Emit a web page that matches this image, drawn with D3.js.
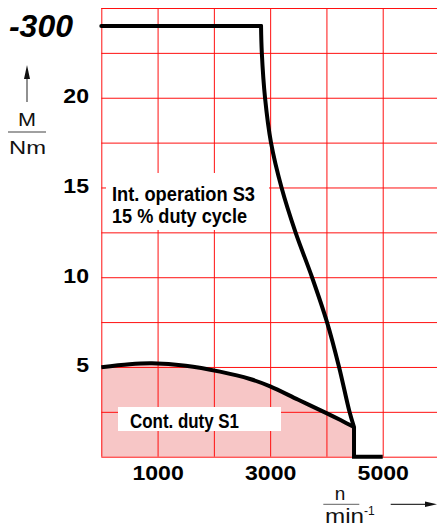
<!DOCTYPE html>
<html><head><meta charset="utf-8">
<script src="https://cdn.jsdelivr.net/npm/d3@7/dist/d3.min.js"></script>
<style>body{margin:0;background:#fff;} svg{display:block;}</style>
</head><body>
<svg id="c" width="437" height="531"></svg>
<script>
// ---- data ----
const title = "-300";
const nGrid = [0, 1000, 2000, 3000, 4000, 5000, 6000];
const mGrid = [0, 2.5, 5, 7.5, 10, 12.5, 15, 17.5, 20, 22.5, 25];
const nTickLabels = [1000, 3000, 5000];
const mTickLabels = [5, 10, 15, 20];
// S3 intermittent operation (15 % duty cycle)
const s3Flat_n = [0, 2838];
const s3Flat_m = [24, 24];
const s3Curve_n = [2838, 2852, 2909, 3015, 3202, 3451, 3744, 4010, 4224, 4410, 4490];
const s3Curve_m = [24, 22.5, 20, 17.5, 15, 12.5, 10, 7.5, 5, 2.5, 1.65];
const s3Drop_n = [4490, 4490, 5000];
const s3Drop_m = [1.65, 0, 0];
// S1 continuous duty
const s1_n = [0, 500, 900, 1500, 2109, 2642, 3000, 3500, 4000, 4250, 4490];
const s1_m = [4.98, 5.15, 5.2, 5.07, 4.74, 4.33, 3.92, 3.17, 2.43, 2.04, 1.65];
const labelS3 = ["Int. operation S3", "15 % duty cycle"];
const labelS1 = "Cont. duty S1";

// ---- chart ----
const svg = d3.select("#c");
const x = d3.scaleLinear().domain([0, 6000]).range([101.3, 439]);
const y = d3.scaleLinear().domain([0, 25]).range([456.7, 8]);
const zip = (a, b) => a.map((n, i) => ({n, m: b[i]}));
const FONT = "'Liberation Sans', Arial, Helvetica, sans-serif";

// S1 fill
const s1 = zip(s1_n, s1_m);
svg.append("path").datum(s1)
  .attr("d", d3.area().x(d => x(d.n)).y0(y(0)).y1(d => y(d.m)).curve(d3.curveCatmullRom))
  .attr("fill", "#f7c6c6");

// grid
const gx = svg.append("g").attr("transform", `translate(0,${y(0)})`)
  .call(d3.axisBottom(x).tickValues(nGrid).tickSize(-(y(0) - y(25))).tickFormat(""));
gx.select(".domain").remove();
gx.selectAll("line").attr("stroke", "#ff1010").attr("stroke-width", 1);
const gy = svg.append("g").attr("transform", `translate(${x(0)},0)`)
  .call(d3.axisLeft(y).tickValues(mGrid).tickSize(-(x(6000) - x(0))).tickFormat(""));
gy.select(".domain").remove();
gy.selectAll("line").attr("stroke", "#ff1010").attr("stroke-width", 1);

// label backgrounds
svg.append("rect").attr("x", 106).attr("y", 173).attr("width", 163).attr("height", 57).attr("fill", "#fff");
svg.append("rect").attr("x", 118).attr("y", 407).attr("width", 163).attr("height", 24).attr("fill", "#fff");

// curves
const line = d3.line().x(d => x(d.n)).y(d => y(d.m));
svg.append("path").datum(s1).attr("d", line.curve(d3.curveCatmullRom))
  .attr("fill", "none").attr("stroke", "#000").attr("stroke-width", 4);
svg.append("path").datum(zip(s3Flat_n, s3Flat_m)).attr("d", line.curve(d3.curveLinear))
  .attr("fill", "none").attr("stroke", "#000").attr("stroke-width", 4).attr("stroke-linecap", "round");
svg.append("path").datum(zip(s3Curve_n, s3Curve_m)).attr("d", line.curve(d3.curveCatmullRom.alpha(0.5)))
  .attr("fill", "none").attr("stroke", "#000").attr("stroke-width", 4).attr("stroke-linecap", "round");
svg.append("path").datum(zip(s3Drop_n, s3Drop_m)).attr("d", line.curve(d3.curveLinear))
  .attr("fill", "none").attr("stroke", "#000").attr("stroke-width", 4).attr("stroke-linejoin", "miter");

function stretch(sel, k) {
  sel.each(function () {
    const w = this.getComputedTextLength();
    d3.select(this).attr("textLength", w * k).attr("lengthAdjust", "spacingAndGlyphs");
  });
}
function fitTo(sel, w) { sel.attr("textLength", w).attr("lengthAdjust", "spacingAndGlyphs"); }

// tick labels
const ay = svg.append("g").attr("transform", `translate(${x(0)},0)`)
  .call(d3.axisLeft(y).tickValues(mTickLabels).tickSize(0).tickPadding(x(0) - 89).tickFormat(d3.format("d")));
ay.select(".domain").remove();
ay.selectAll("text").attr("dy", null).attr("y", 5)
  .style("font-family", FONT).style("font-size", "21px").style("font-weight", "bold").attr("fill", "#000");
stretch(ay.selectAll("text"), 1.1);

const ax = svg.append("g").attr("transform", `translate(0,${y(0)})`)
  .call(d3.axisBottom(x).tickValues(nTickLabels).tickSize(0).tickFormat(d3.format("d")));
ax.select(".domain").remove();
ax.selectAll("text").attr("dy", null).attr("y", 23.3)
  .style("font-family", FONT).style("font-size", "21px").style("font-weight", "bold").attr("fill", "#000");
stretch(ax.selectAll("text"), 1.1);

// in-plot labels
const t3 = svg.append("g").style("font-family", FONT).style("font-weight", "bold").style("font-size", "21px");
fitTo(t3.append("text").attr("x", 112).attr("y", 200.7).text(labelS3[0]), 143);
fitTo(t3.append("text").attr("x", 112).attr("y", 223.3).text(labelS3[1]), 135);
fitTo(svg.append("text").attr("x", 130).attr("y", 428.3).style("font-family", FONT)
  .style("font-weight", "bold").style("font-size", "20px").text(labelS1), 109);

// title
svg.append("text").attr("x", 73).attr("y", 36.7).attr("text-anchor", "end")
  .style("font-family", FONT).style("font-weight", "bold").style("font-style", "italic").style("font-size", "32px")
  .text(title);

// y axis title
svg.append("line").attr("x1", 27).attr("x2", 27).attr("y1", 102).attr("y2", 74).attr("stroke", "#555").attr("stroke-width", 1.3);
svg.append("path").attr("d", "M27,65 L30,79 L24,79 Z").attr("fill", "#111");
const yt = svg.append("g").style("font-family", FONT).style("font-size", "19px").attr("fill", "#111").attr("text-anchor", "middle");
fitTo(yt.append("text").attr("x", 27).attr("y", 125.5).text("M"), 18);
fitTo(yt.append("text").attr("x", 27.5).attr("y", 154).text("Nm"), 37);
svg.append("line").attr("x1", 8).attr("x2", 46).attr("y1", 132).attr("y2", 132).attr("stroke", "#808080").attr("stroke-width", 1.5);

// x axis title
const xt = svg.append("g").style("font-family", FONT).attr("fill", "#111");
xt.append("text").attr("x", 340).attr("y", 500).attr("text-anchor", "middle").style("font-size", "19px").text("n");
svg.append("line").attr("x1", 323.3).attr("x2", 359.3).attr("y1", 504.3).attr("y2", 504.3).attr("stroke", "#808080").attr("stroke-width", 1.3);
fitTo(xt.append("text").attr("x", 325).attr("y", 523.3).style("font-size", "20px").text("min"), 39);
xt.append("text").attr("x", 364).attr("y", 515).style("font-size", "12px").text("-1");
svg.append("line").attr("x1", 390.7).attr("x2", 428).attr("y1", 504.3).attr("y2", 504.3).attr("stroke", "#333").attr("stroke-width", 1.3);
svg.append("path").attr("d", "M437,504.3 L425,501.6 L425,507 Z").attr("fill", "#111");
</script>
</body></html>
